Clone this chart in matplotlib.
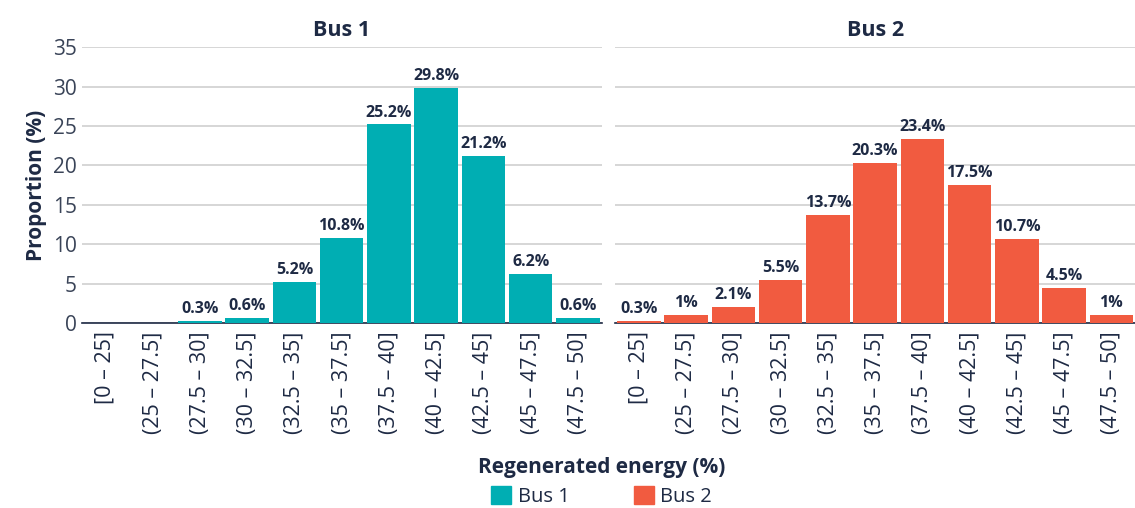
import matplotlib.pyplot as plt
from matplotlib.patches import Patch

# bins of regenerated energy (%)
bins = ["[0 – 25]", "(25 – 27.5]", "(27.5 – 30]", "(30 – 32.5]", "(32.5 – 35]",
        "(35 – 37.5]", "(37.5 – 40]", "(40 – 42.5]", "(42.5 – 45]", "(45 – 47.5]",
        "(47.5 – 50]"]
bus1 = [0, 0, 0.3, 0.6, 5.2, 10.8, 25.2, 29.8, 21.2, 6.2, 0.6]
bus2 = [0.3, 1, 2.1, 5.5, 13.7, 20.3, 23.4, 17.5, 10.7, 4.5, 1]

teal = "#00AEB3"
red = "#F15B40"
navy = "#1E2A44"

plt.rcParams['font.family'] = ['Open Sans', 'DejaVu Sans']

fig = plt.figure(figsize=(11.35, 5.08), dpi=100)
ax1 = fig.add_axes([0.072, 0.364, 0.458, 0.543])
ax2 = fig.add_axes([0.542, 0.364, 0.458, 0.543], sharey=ax1)


def fmt(v):
    s = f"{v:.1f}"
    if s.endswith(".0"):
        s = s[:-2]
    return s + "%"


for ax, vals, col, title in [(ax1, bus1, teal, "Bus 1"), (ax2, bus2, red, "Bus 2")]:
    x = range(len(bins))
    bars = ax.bar(x, vals, width=0.92, color=col, zorder=3)
    for b, v in zip(bars, vals):
        if v > 0:
            ax.text(b.get_x() + b.get_width() / 2, v + 0.5, fmt(v), ha="center", va="bottom",
                    fontsize=11.5, fontweight="bold", color=navy)
    ax.set_xlim(-0.5, len(bins) - 0.5)
    ax.set_ylim(0, 35)
    ax.set_yticks(range(0, 36, 5))
    ax.set_xticks(list(x))
    ax.set_xticklabels(bins, rotation=90, fontsize=15.5, color=navy)
    ax.grid(axis="y", color="#D0D0D0", linewidth=1.2, zorder=0)
    for s in ["top", "right", "left"]:
        ax.spines[s].set_visible(False)
    ax.spines["bottom"].set_color(navy)
    ax.spines["bottom"].set_linewidth(1.2)
    ax.tick_params(axis="x", length=0, pad=6)
    ax.tick_params(axis="y", length=0, labelsize=15, labelcolor="#3A4458")
    ax.set_title(title, fontsize=15.5, fontweight="bold", color=navy, pad=8)

ax2.tick_params(axis="y", labelleft=False)
ax1.set_ylabel("Proportion (%)", fontsize=15, fontweight="bold", color=navy, labelpad=4)
fig.text(0.53, 0.08, "Regenerated energy (%)", ha="center", va="center",
         fontsize=15, fontweight="bold", color=navy)

handles = [Patch(color=teal, label="Bus 1"), Patch(color=red, label="Bus 2")]
fig.legend(handles=handles, loc="center", bbox_to_anchor=(0.53, 0.022), ncol=2,
           frameon=False, fontsize=14.5, handlelength=1.0, handleheight=1.0,
           handletextpad=0.3, columnspacing=3.2, labelcolor=navy)

fig.savefig("out.png", dpi=100)
